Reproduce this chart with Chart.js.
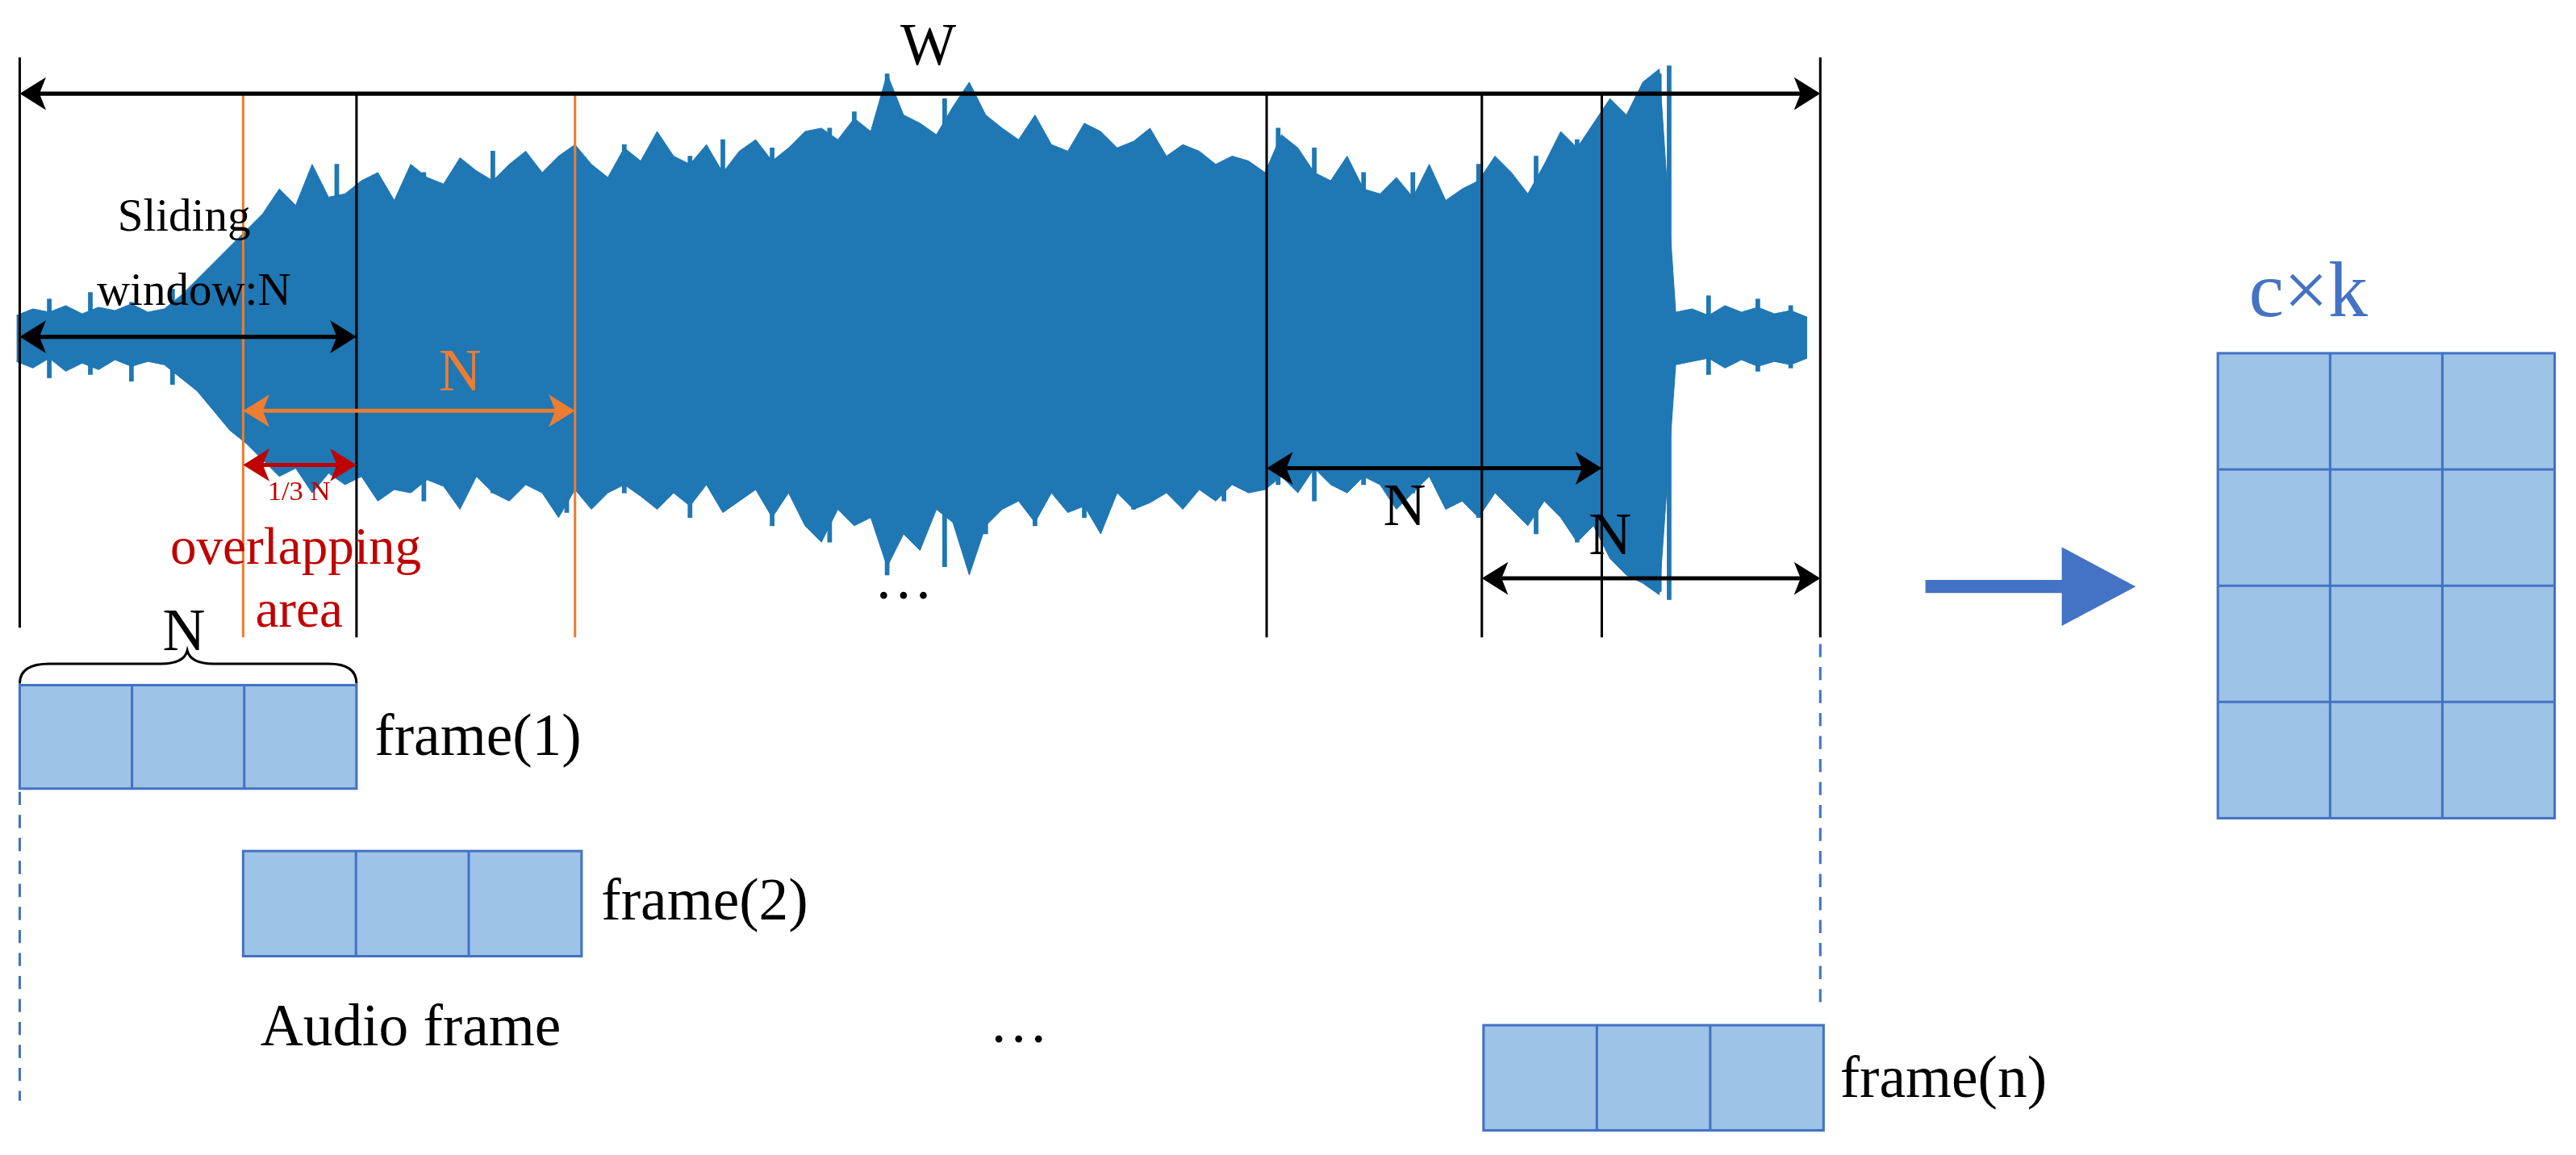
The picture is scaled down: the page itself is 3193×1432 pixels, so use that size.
<!DOCTYPE html>
<html><head><meta charset="utf-8">
<script src="https://cdn.jsdelivr.net/npm/chart.js@4"></script>
<style>html,body{margin:0;padding:0;background:#fff}#w{width:3193px;height:1432px}</style>
</head><body><div id="w"><canvas id="c" width="3193" height="1432"></canvas></div>
<script>
// Waveform envelope, sampled every 10 units along the time axis (from x=10 to 1100)
const sampleStart = 10, sampleStep = 10;
const upperEnvelope = [192,188,190,186,191,187,189,185,190,188,
 180,170,160,150,140, 130,115,125,100,120,
 118,110,105,122,100,108,112,96,104,110,
 100,92,105,95,88,100,108,90,98,80,
 95,100,88,105,92,85,98,90,80,78,
 85,72,80,45,70,75,82,65,50,70,
 78,85,70,88,92,75,80,90,86,78,
 95,88,92,100,95,98,105,
 82,90,105,110,95,115,118,108,
 120,100,122,115,110,
 95,105,118,100,80,90,75,60,70,50,
 42,190,
 188,192,186,190,187,191,189,193];
const lowerEnvelope = [220,224,218,226,221,225,219,223,220,222,
 230,238,250,262,270, 280,290,285,300,288,
 295,290,305,298,300,292,296,310,290,300,
 305,295,300,315,298,310,300,295,302,310,
 300,308,295,312,305,298,315,300,320,330,
 310,320,315,345,325,335,310,318,350,320,
 310,305,318,300,312,308,325,300,310,306,
 300,310,298,305,295,300,298,
 290,300,285,295,300,290,295,310,
 300,290,310,305,315,
 300,310,320,305,315,330,320,340,350,355,
 362,222,
 220,218,224,219,223,220,222,218];
// individual spikes of the waveform
const spikeX      = [30,55,80,105,160,205,232,258,300,345,380,420,440,470,505,520,540,560,575,600,630,660,690,720,745,778,800,830,860,900,935,960,985,1000,1010,1016,1040,1070,1090];
const spikeTop    = [182,178,184,176,150,100,115,105,92,95,88,95,85,90,78,68,45,80,60,85,82,88,90,95,100,78,90,105,105,100,95,85,72,55,45,40,180,182,186];
const spikeBottom = [230,228,232,234,265,290,300,305,300,312,300,315,305,320,330,310,350,330,345,325,320,315,310,300,305,295,305,295,300,315,325,330,340,350,360,365,228,226,224];
const frameLabels = ["frame(1)","frame(2)","frame(n)"];
const windowLabels = ["Sliding","window:N","N","1/3 N","overlapping","area","W","c×k","Audio frame"];

const K = 3193/1568;
const xs = upperEnvelope.map((_,i)=>sampleStart+i*sampleStep);
const up = xs.map((x,i)=>({x,y:upperEnvelope[i]}));
const lo = xs.map((x,i)=>({x,y:lowerEnvelope[i]}));
const spikes = spikeX.map((x,i)=>({x,y:[spikeTop[i],spikeBottom[i]]}));
const BLUE='#1f77b4', FB='#9dc3e6', FS='#4472c4', OR='#ed7d31', RED='#c00000';
const SERIF='"Liberation Serif", "DejaVu Serif", serif';

const deco = {
 id:'deco',
 afterDatasetsDraw(chart){
  const c=chart.ctx, X=v=>chart.scales.x.getPixelForValue(v), Y=v=>chart.scales.y.getPixelForValue(v);
  function line(x1,y1,x2,y2,col,w,dash){c.save();c.strokeStyle=col;c.lineWidth=w*K;c.setLineDash(dash?dash.map(d=>d*K):[]);c.beginPath();c.moveTo(X(x1),Y(y1));c.lineTo(X(x2),Y(y2));c.stroke();c.restore();}
  function head(x,y,dir,col,len,hw){c.save();c.fillStyle=col;c.beginPath();c.moveTo(X(x),Y(y));c.lineTo(X(x-dir*len),Y(y-hw));c.lineTo(X(x-dir*len*0.75),Y(y));c.lineTo(X(x-dir*len),Y(y+hw));c.closePath();c.fill();c.restore();}
  function darrow(x1,x2,y,col,w){line(x1+4,y,x2-4,y,col,w);head(x1,y,-1,col,16,10);head(x2,y,1,col,16,10);}
  function text(t,x,y,size,col,align){c.save();c.fillStyle=col;c.font=(size*K)+'px '+SERIF;c.textAlign=align||'center';c.textBaseline='middle';c.fillText(t,X(x),Y(y));c.restore();}
  function box(x1,y1,x2,y2,cols,rows){c.save();c.fillStyle=FB;c.fillRect(X(x1),Y(y1),X(x2)-X(x1),Y(y2)-Y(y1));c.restore();
    for(let i=1;i<cols;i++){const x=x1+(x2-x1)*i/cols;line(x,y1,x,y2,FS,1.5);}
    for(let j=1;j<rows;j++){const y=y1+(y2-y1)*j/rows;line(x1,y,x2,y,FS,1.5);}
    c.save();c.strokeStyle=FS;c.lineWidth=1.5*K;c.strokeRect(X(x1),Y(y1),X(x2)-X(x1),Y(y2)-Y(y1));c.restore();}
  line(12,35,12,382,'#000',1.5); line(1108,35,1108,388,'#000',1.5);
  [217,771,902,975].forEach(x=>line(x,57,x,388,'#000',1.5));
  [148,350].forEach(x=>line(x,57,x,388,OR,1.5));
  darrow(12,1108,57,'#000',2.5); text(windowLabels[6],565,30,36,'#000');
  darrow(12,217,205,'#000',2.5);
  text(windowLabels[0],112,133,28,'#000'); text(windowLabels[1],118,178,28,'#000');
  darrow(148,350,250,OR,2.5); text(windowLabels[2],280,228,36,OR);
  darrow(148,217,283,RED,2.5); text(windowLabels[3],182,300,17,RED);
  text(windowLabels[4],180,335,32,RED); text(windowLabels[5],182,373,32,RED);
  darrow(771,975,285,'#000',2.5); text('N',855,310,36,'#000');
  darrow(902,1108,352,'#000',2.5); text('N',980,328,36,'#000');
  text('…',550,355,36,'#000'); text('…',620,625,36,'#000');
  c.save();c.strokeStyle='#000';c.lineWidth=1.5*K;c.beginPath();
  c.moveTo(X(12),Y(416));c.quadraticCurveTo(X(12),Y(404),X(30),Y(404));c.lineTo(X(98),Y(404));c.quadraticCurveTo(X(112),Y(404),X(114),Y(396));
  c.quadraticCurveTo(X(116),Y(404),X(130),Y(404));c.lineTo(X(200),Y(404));c.quadraticCurveTo(X(217),Y(404),X(217),Y(416));c.stroke();c.restore();
  text('N',112,386,36,'#000');
  box(12,417,217,480,3,1); text(frameLabels[0],228,450,36,'#000','left');
  box(148,518,354,582,3,1); text(frameLabels[1],366,550,36,'#000','left');
  box(903,624,1110,688,3,1); text(frameLabels[2],1120,658,36,'#000','left');
  text(windowLabels[8],250,627,36,'#000');
  line(12,482,12,670,FS,1.5,[8,6]); line(1108,392,1108,615,FS,1.5,[8,6]);
  line(1172,357,1262,357,FS,8); c.save();c.fillStyle=FS;c.beginPath();c.moveTo(X(1300),Y(357));c.lineTo(X(1255),Y(333));c.lineTo(X(1255),Y(381));c.closePath();c.fill();c.restore();
  text(windowLabels[7],1405,180,48,FS);
  box(1350,215,1555,498,3,4);
 }
};

new Chart(document.getElementById('c'),{
 data:{datasets:[
  {type:'line',data:lo,borderColor:BLUE,borderWidth:1,pointRadius:0,fill:false,tension:0},
  {type:'line',data:up,borderColor:BLUE,borderWidth:1,pointRadius:0,fill:'-1',backgroundColor:BLUE,tension:0},
  {type:'bar',data:spikes,backgroundColor:BLUE,barThickness:2.5*K,borderWidth:0}
 ]},
 options:{responsive:false,animation:false,events:[],
  layout:{padding:0},
  plugins:{legend:{display:false},tooltip:{enabled:false}},
  scales:{x:{type:'linear',min:0,max:1568,display:false,offset:false},y:{min:0,max:703,reverse:true,display:false}}},
 plugins:[deco]
});
</script></body></html>
